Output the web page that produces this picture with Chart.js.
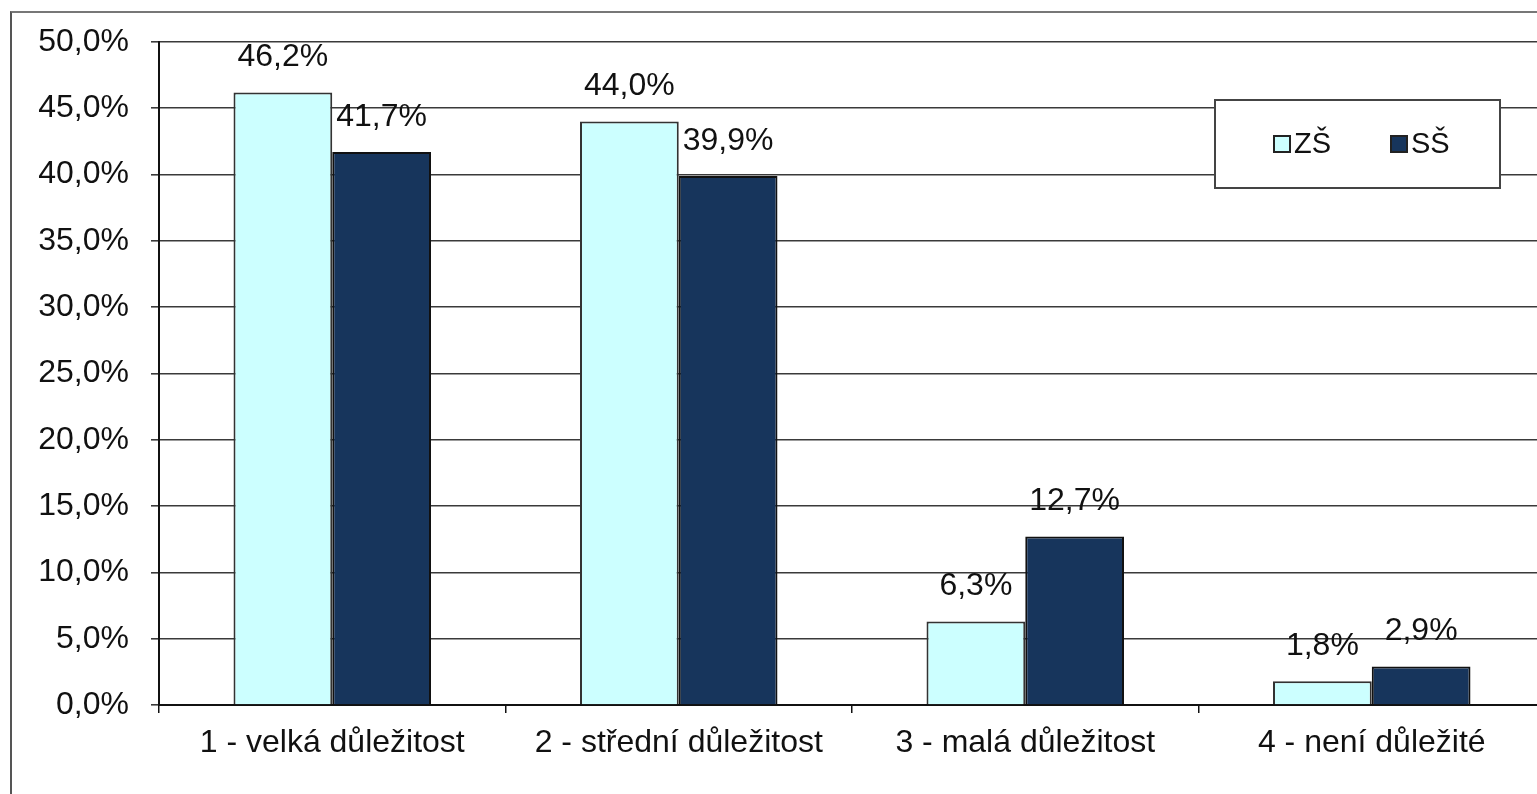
<!DOCTYPE html>
<html>
<head>
<meta charset="utf-8">
<script src="https://cdn.jsdelivr.net/npm/chart.js@4.4.0/dist/chart.umd.min.js"></script>
<style>
  body { margin: 0; background: #fff; overflow: hidden; }
  #frame { position: absolute; left: 10px; top: 11px; width: 1600px; height: 781px;
           border-left: 2px solid #555; border-top: 2px solid #777; border-bottom: 1px solid #ddd; }
  #wrap { position: absolute; left: 0; top: 0; width: 1545px; height: 794px; }
</style>
</head>
<body>
<div id="frame"></div>
<div id="wrap"><canvas id="chart"></canvas></div>
<script>
// data
const categories = ["1 - velká důležitost", "2 - střední důležitost", "3 - malá důležitost", "4 - není důležité"];
const seriesNames = ["ZŠ", "SŠ"];
const zsValues = [46.2, 44.0, 6.3, 1.8];
const ssValues = [41.7, 39.9, 12.7, 2.9];
const colors = ["#ccffff", "#17355c"];

const fontFamily = "'Liberation Sans', Arial, sans-serif";

function fmt(v) {
  return v.toFixed(1).replace(".", ",") + "%";
}

// labels above the bars
const barLabels = {
  id: "barLabels",
  afterDatasetsDraw(chart) {
    const ctx = chart.ctx;
    ctx.save();
    ctx.font = "32px " + fontFamily;
    ctx.fillStyle = "#111";
    ctx.textAlign = "center";
    ctx.textBaseline = "middle";
    chart.data.datasets.forEach((ds, i) => {
      chart.getDatasetMeta(i).data.forEach((bar, j) => {
        ctx.fillText(fmt(ds.data[j]), bar.x, bar.y - 35);
      });
    });
    ctx.restore();
  }
};

// excel style legend box
const legendBox = {
  id: "legendBox",
  afterDraw(chart) {
    const ctx = chart.ctx;
    const x = 1215, y = 100, w = 285, h = 88;
    ctx.save();
    ctx.fillStyle = "#fff";
    ctx.fillRect(x, y, w, h);
    ctx.strokeStyle = "#444";
    ctx.lineWidth = 2;
    ctx.strokeRect(x, y, w, h);
    ctx.font = "29px " + fontFamily;
    ctx.textBaseline = "middle";
    ctx.textAlign = "left";
    const itemX = [1274, 1391];
    chart.data.datasets.forEach((ds, i) => {
      ctx.fillStyle = ds.backgroundColor;
      ctx.fillRect(itemX[i], 136, 16, 16);
      ctx.strokeStyle = "#222";
      ctx.lineWidth = 2;
      ctx.strokeRect(itemX[i], 136, 16, 16);
      ctx.fillStyle = "#111";
      ctx.fillText(ds.label, itemX[i] + 20, 145);
    });
    ctx.restore();
  }
};

new Chart(document.getElementById("chart"), {
  type: "bar",
  data: {
    labels: categories,
    datasets: [
      { label: seriesNames[0], data: zsValues, backgroundColor: colors[0], borderColor: "#333", borderWidth: 2 },
      { label: seriesNames[1], data: ssValues, backgroundColor: colors[1], borderColor: "#111", borderWidth: 2 }
    ]
  },
  options: {
    responsive: true,
    maintainAspectRatio: false,
    animation: false,
    layout: { padding: { top: 42, right: 0, bottom: 0, left: 0 } },
    plugins: { legend: { display: false }, tooltip: { enabled: false } },
    datasets: { bar: { categoryPercentage: 0.57, barPercentage: 1 } },
    scales: {
      y: {
        min: 0, max: 50,
        afterFit(scale) { scale.width = 159; },
        ticks: {
          stepSize: 5,
          padding: 22,
          color: "#111",
          font: { size: 32, family: fontFamily },
          callback: (v) => fmt(v)
        },
        grid: { color: "#3a3a3a", lineWidth: 1.6, tickLength: 8 },
        border: { color: "#111", width: 2 }
      },
      x: {
        afterFit(scale) { scale.height = 89; },
        ticks: {
          padding: 11,
          color: "#111",
          font: { size: 32, family: fontFamily }
        },
        grid: { offset: true, drawOnChartArea: false, color: "#111", lineWidth: 1.5, tickLength: 8 },
        border: { color: "#111", width: 2 }
      }
    }
  },
  plugins: [barLabels, legendBox]
});
</script>
</body>
</html>
